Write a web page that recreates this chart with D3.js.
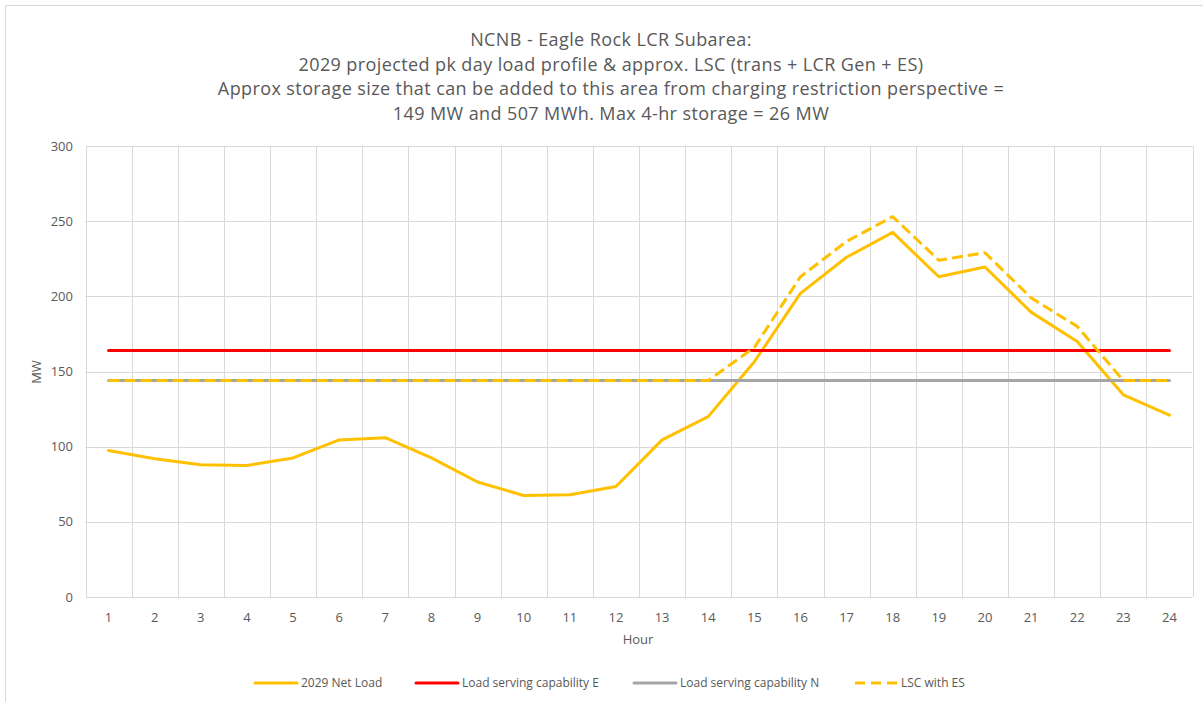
<!DOCTYPE html>
<html lang="en">
<head>
<meta charset="UTF-8">
<title>NCNB - Eagle Rock LCR Subarea</title>
<script src="https://cdn.jsdelivr.net/npm/d3@7"></script>
<style>
    body { margin: 0; background: #fff; }
    svg { display: block; font-family: "Open Sans", "Noto Sans", sans-serif; }
    .title { fill: #595959; font-size: 18px; letter-spacing: 0.4px; }
    .tick-label { fill: #595959; font-size: 13px; }
    .axis-title { fill: #595959; font-size: 13px; }
    .legend text { fill: #595959; font-size: 12px; }
</style>
</head>
<body>
<svg id="chart" width="1203" height="702"></svg>
<script>
// data
var hours = d3.range(1, 25);
var netLoad = [97.5, 92, 88, 87.5, 92.5, 104.5, 106, 92.5, 76.5, 67.5, 68, 73.5,
               104.5, 120, 156.5, 202, 226, 242.5, 213, 219.5, 189.5, 170, 134.5, 121];
var lscE = [164, 164, 164, 164, 164, 164, 164, 164, 164, 164, 164, 164,
            164, 164, 164, 164, 164, 164, 164, 164, 164, 164, 164, 164];
var lscN = [144, 144, 144, 144, 144, 144, 144, 144, 144, 144, 144, 144,
            144, 144, 144, 144, 144, 144, 144, 144, 144, 144, 144, 144];
var lscES = [144, 144, 144, 144, 144, 144, 144, 144, 144, 144, 144, 144,
             144, 144, 166, 213, 236.5, 253, 224, 229, 199, 180, 144, 144];
var yTicks = [0, 50, 100, 150, 200, 250, 300];
var titleLines = [
    "NCNB - Eagle Rock LCR Subarea:",
    "2029 projected pk day load profile & approx. LSC (trans + LCR Gen + ES)",
    "Approx storage size that can be added to this area from charging restriction perspective =",
    "149 MW and 507 MWh. Max 4-hr storage = 26 MW"
];

var series = [
    { name: "2029 Net Load", values: netLoad, color: "#FFC000", dash: null },
    { name: "Load serving capability E", values: lscE, color: "#FF0000", dash: null },
    { name: "Load serving capability N", values: lscN, color: "#A5A5A5", dash: null },
    { name: "LSC with ES", values: lscES, color: "#FFC000", dash: "11,5" }
];

var plot = { left: 85.5, right: 1192.5, top: 146, bottom: 597 };
var svg = d3.select("#chart");

// outer chart border
svg.append("rect")
    .attr("x", 5.5).attr("y", 5.5)
    .attr("width", 1210).attr("height", 710)
    .attr("fill", "#fff").attr("stroke", "#D9D9D9");

var x = d3.scaleBand().domain(hours).range([plot.left, plot.right]).padding(0);
var y = d3.scaleLinear().domain([0, 300]).range([plot.bottom, plot.top]);

// title
svg.append("g").selectAll("text")
    .data(titleLines)
    .enter().append("text")
    .attr("class", "title")
    .attr("x", 611)
    .attr("y", function (d, i) { return 46 + i * 24.5; })
    .attr("text-anchor", "middle")
    .text(function (d) { return d; });

// grid
var grid = svg.append("g").attr("stroke", "#D9D9D9").attr("stroke-width", 1);
grid.selectAll(".hgrid")
    .data(yTicks)
    .enter().append("line")
    .attr("x1", plot.left).attr("x2", plot.right)
    .attr("y1", function (d) { return Math.round(y(d)) + 0.5; })
    .attr("y2", function (d) { return Math.round(y(d)) + 0.5; });
grid.selectAll(".vgrid")
    .data(hours.concat([25]))
    .enter().append("line")
    .attr("x1", function (d) { return Math.round(d === 25 ? plot.right : x(d)) + 0.5; })
    .attr("x2", function (d) { return Math.round(d === 25 ? plot.right : x(d)) + 0.5; })
    .attr("y1", plot.top).attr("y2", plot.bottom);

// axis labels
svg.append("g").selectAll("text")
    .data(yTicks)
    .enter().append("text")
    .attr("class", "tick-label")
    .attr("x", 73)
    .attr("y", function (d) { return y(d); })
    .attr("dy", "0.35em")
    .attr("text-anchor", "end")
    .text(function (d) { return d; });

svg.append("g").selectAll("text")
    .data(hours)
    .enter().append("text")
    .attr("class", "tick-label")
    .attr("x", function (d) { return x(d) + x.bandwidth() / 2; })
    .attr("y", 617)
    .attr("dy", "0.35em")
    .attr("text-anchor", "middle")
    .text(function (d) { return d; });

svg.append("text")
    .attr("class", "axis-title")
    .attr("x", 638).attr("y", 639)
    .attr("dy", "0.35em")
    .attr("text-anchor", "middle")
    .text("Hour");

svg.append("text")
    .attr("class", "axis-title")
    .attr("transform", "translate(36,372) rotate(-90)")
    .attr("dy", "0.35em")
    .attr("text-anchor", "middle")
    .text("MW");

// lines
var line = d3.line()
    .x(function (d, i) { return x(hours[i]) + x.bandwidth() / 2; })
    .y(function (d) { return y(d); });

svg.append("g").selectAll("path")
    .data(series)
    .enter().append("path")
    .attr("d", function (s) { return line(s.values); })
    .attr("fill", "none")
    .attr("stroke", function (s) { return s.color; })
    .attr("stroke-width", 3)
    .attr("stroke-linejoin", "round")
    .attr("stroke-linecap", function (s) { return s.dash ? "butt" : "round"; })
    .attr("stroke-dasharray", function (s) { return s.dash; });

// legend
var legendX = [255, 416, 634, 855];
var legend = svg.append("g").attr("class", "legend").selectAll("g")
    .data(series)
    .enter().append("g")
    .attr("transform", function (d, i) { return "translate(" + legendX[i] + ",683)"; });
legend.append("line")
    .attr("x1", 0).attr("x2", 42)
    .attr("stroke", function (s) { return s.color; })
    .attr("stroke-width", 3)
    .attr("stroke-linecap", function (s) { return s.dash ? "butt" : "round"; })
    .attr("stroke-dasharray", function (s) { return s.dash ? "10,6" : null; });
legend.append("text")
    .attr("x", 46)
    .attr("dy", "0.35em")
    .text(function (s) { return s.name; });
</script>
</body>
</html>
